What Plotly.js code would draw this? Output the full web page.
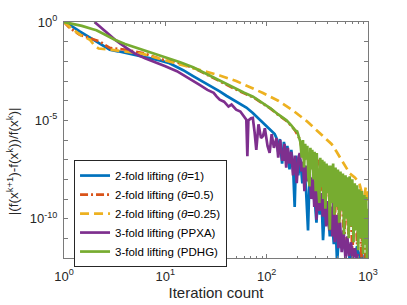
<!DOCTYPE html>
<html>
<head>
<meta charset="utf-8">
<script src="https://cdn.plot.ly/plotly-3.0.1.min.js"></script>
<style>html,body{margin:0;padding:0;background:#fff;}#chart{width:407px;height:305px;}</style>
</head>
<body>
<div id="chart"></div>
<script>
// Series names
const seriesNames = [
  '2-fold lifting (<i>θ</i>=1)',
  '2-fold lifting (<i>θ</i>=0.5)',
  '2-fold lifting (<i>θ</i>=0.25)',
  '3-fold lifting (PPXA)',
  '3-fold lifting (PDHG)'
];
const xTitle = 'Iteration count';
const yTitle = '|(f(x<sup>k+1</sup>)-f(x<sup>k</sup>))/f(x<sup>k</sup>)|';

// Values are stored as log10 of |(f(x^{k+1})-f(x^k))/f(x^k)|
const iterTheta1 = [1,1.2,1.43,1.7,1.93,2.2,2.43,2.83,3.41,4.12,5,7,8.8,11,15,18.8,25,34.4,40,50,63,73,85,100,107,120,
  125,130,135,142,148,155,160,168,175,182,189,195,205,215,225,235,245,256,265,278,290,300,310,322,335,348,360,375,390,405,420,440,460,480,495,520,545,570,600,630,660,700,740,780,820,860,900,950];
const logTheta1 = [0,-0.22,-0.48,-0.72,-0.9,-1.08,-1.24,-1.41,-1.49,-1.58,-1.68,-1.85,-1.95,-2.1,-2.45,-2.75,-3.1,-3.53,-3.75,-4.05,-4.35,-4.63,-4.95,-5.3,-5.48,-5.7,
  -5.9,-6.6,-5.95,-7.2,-6.1,-6.9,-6.3,-7.5,-6.5,-7.3,-9.4,-6.8,-7.8,-7.0,-8.2,-7.3,-8.6,-10.6,-7.8,-9.0,-8.2,-9.5,-10.2,-8.6,-9.8,-9.0,-11.1,-9.4,-10.3,-9.7,-10.9,-10.0,-11.3,-10.4,-12.2,-10.8,-11.5,-10.9,-11.8,-11.2,-12.1,-11.5,-11.9,-11.4,-12.1,-11.6,-12.2,-11.8];

const iterTheta05 = [1,1.14,1.43,1.79,2.25,2.83,4.12,6,9.5,14,18.8,25,34.4,45,60,73.4,90,110,130,157,175,190,212,
  220,235,250,265,280,300,320,340,360,380,400,420,445,470,495,520,550,580,610,640,670,700,740,780,820,860,900,950];
const logTheta05 = [0,-0.3,-0.65,-0.81,-0.99,-1.32,-1.41,-1.58,-1.92,-2.1,-2.33,-2.64,-3.02,-3.32,-3.63,-3.82,-4.12,-4.42,-4.72,-5.03,-5.28,-5.5,-5.95,
  -6.3,-7.0,-6.5,-7.6,-6.7,-8.4,-7.0,-8.6,-7.2,-9.2,-7.4,-9.6,-7.6,-10.0,-7.8,-10.4,-8.0,-11.5,-8.2,-10.8,-8.4,-11.9,-8.6,-11.3,-8.8,-12.1,-9.0,-12.2];

const iterTheta025 = [1,1.2,1.5,1.8,2.0,2.2,3.0,4,6,10,15,23.6,34.4,50,68.5,92,130,182,250,310,370,436,490,560,660,740,820,870,920,950,975,1000];
const logTheta025 = [0,-0.35,-0.7,-0.9,-1.2,-1.35,-1.42,-1.5,-1.62,-1.95,-2.2,-2.51,-2.72,-3.0,-3.3,-3.61,-4.0,-4.5,-5.05,-5.5,-5.85,-6.2,-6.6,-7.1,-7.7,-7.9,-8.18,-8.7,-8.87,-8.4,-9.2,-8.6];

const iterPPXA = [2,2.5,3,3.28,4.12,5,6.3,8,10,13,17,21.8,26,30,32,34.4,38,42,45,50,55,60,63,64.5,66,70,73,76,79,83,88,92,96,102,107,112,118,
  125,130,136,142,146,150,156,162,168,175,182,190,198,206,212,220,228,236,245,255,265,275,285,295,305,310,320,332,345,358,372,386,400,415,430,445,453,470,490,510,530,550,575,600,625,650,680,710,740,770,800];
const logPPXA = [0,-0.45,-0.82,-0.95,-1.32,-1.6,-1.85,-2.05,-2.25,-2.5,-2.85,-3.2,-3.45,-3.6,-3.78,-3.95,-4.05,-4.3,-4.2,-4.46,-4.55,-4.8,-4.97,-6.83,-5.0,-4.9,-4.88,-5.6,-6.5,-5.2,-5.9,-5.8,-5.4,-6.3,-6.66,-5.7,-6.4,
  -5.9,-6.9,-6.0,-7.0,-7.0,-6.2,-7.4,-6.4,-7.2,-6.6,-7.8,-6.8,-8.2,-6.9,-6.66,-7.6,-7.1,-8.6,-7.3,-8.1,-7.6,-9.0,-7.9,-9.4,-8.1,-10.05,-8.4,-9.6,-8.7,-9.9,-8.9,-10.4,-9.1,-10.6,-9.4,-10.9,-9.2,-11.2,-9.8,-11.5,-10.2,-11.7,-10.6,-12.1,-10.9,-11.9,-11.2,-12.1,-11.5,-12.0,-11.8];

const iterPDHG = [1,1.5,1.93,2.09,2.5,3.17,4,5,6,7,8.8,11,14,18.8,25,34.4,45,60,73.4,90,110,130,157,175,190,200,
  215,222,228,234,240,246,252,258,265,270,276,282,290,297,305,312,320,331,338,346,354,362,370,380,390,400,410,420,430,440,453,465,478,492,505,520,535,550,565,580,600,615,630,645,660,680,700,720,740,760,780,800,820,845,870,895,920,940,960,975,990,1000];
const logPDHG = [0,-0.2,-0.37,-0.42,-0.62,-0.9,-1.12,-1.28,-1.41,-1.55,-1.72,-1.85,-2.05,-2.3,-2.62,-3.0,-3.3,-3.6,-3.8,-4.1,-4.4,-4.7,-5.0,-5.25,-5.5,-5.56,
  -6.1,-6.9,-6.0,-7.4,-6.2,-7.0,-6.3,-7.9,-8.36,-6.4,-7.5,-6.5,-8.0,-6.6,-8.6,-6.66,-8.2,-9.2,-6.9,-8.4,-7.0,-9.0,-7.1,-9.5,-7.2,-8.7,-7.3,-10.56,-7.3,-9.2,-7.2,-9.8,-7.4,-9.4,-7.5,-10.2,-7.6,-9.6,-7.7,-10.8,-7.8,-10.0,-7.9,-11.0,-7.85,-10.4,-8.0,-11.2,-8.2,-10.6,-8.3,-11.6,-8.5,-11.0,-8.6,-11.8,-8.8,-11.3,-8.9,-12.2,-9.5,-11.0];

// Axis ticks
const xTickVals = [1, 10, 100, 1000];
const xTickText = ['10<sup>0</sup>', '10<sup>1</sup>', '10<sup>2</sup>', '10<sup>3</sup>'];
const yTickExps = [0,-1,-2,-3,-4,-5,-6,-7,-8,-9,-10,-11,-12];
const yTickText = ['10<sup>0</sup>','','','','','10<sup>-5</sup>','','','','','10<sup>-10</sup>','',''];

const colors = ['#0072BD', '#D95319', '#EDB120', '#7E2F8E', '#77AC30'];
const dashes = ['solid', '8px,3px,2px,3px', '9px,5px', 'solid', 'solid'];

const toVal = arr => arr.map(e => Math.pow(10, e));
const xs = [iterTheta1, iterTheta05, iterTheta025, iterPPXA, iterPDHG];
const ys = [logTheta1, logTheta05, logTheta025, logPPXA, logPDHG];

const traces = xs.map((x, i) => ({
  x: x, y: toVal(ys[i]), type: 'scatter', mode: 'lines', name: seriesNames[i],
  line: {color: colors[i], width: 2.7, dash: dashes[i]}
}));

const minorX = [];
for (const d of [1, 10, 100]) for (let m = 2; m <= 9; m++) minorX.push(m * d);

const axisCol = '#7a7a7a';
const fam = 'Liberation Sans, Arial, sans-serif';

const layout = {
  width: 407, height: 305,
  margin: {l: 64, r: 39, t: 22, b: 47},
  paper_bgcolor: '#fff', plot_bgcolor: '#fff',
  font: {family: fam, size: 12, color: '#262626'},
  showlegend: true,
  legend: {x: 0.033, y: 0.415, xanchor: 'left', yanchor: 'top', bgcolor: '#fff',
    bordercolor: '#262626', borderwidth: 1, font: {family: fam, size: 11.5, color: '#000'},
    tracegroupgap: 0},
  xaxis: {type: 'log', range: [0, 3], tickvals: xTickVals, ticktext: xTickText,
    ticks: 'inside', ticklen: 4, tickcolor: axisCol, showline: true, linecolor: axisCol, linewidth: 1,
    mirror: 'ticks', showgrid: false, zeroline: false, ticklabelstandoff: 6,
    minor: {tickvals: minorX, ticks: 'inside', ticklen: 2, tickcolor: axisCol, showgrid: false},
    tickfont: {family: fam, size: 13, color: '#262626'},
    title: {text: xTitle, font: {family: fam, size: 15, color: '#262626'}, standoff: 3}},
  yaxis: {type: 'log', range: [-12, 0], tickvals: toVal(yTickExps), ticktext: yTickText,
    ticks: 'inside', ticklen: 4, tickcolor: axisCol, showline: true, linecolor: axisCol, linewidth: 1,
    mirror: 'ticks', showgrid: false, zeroline: false, ticklabelstandoff: 3,
    tickfont: {family: fam, size: 13, color: '#262626'}},
  annotations: [{
    text: yTitle, xref: 'paper', yref: 'paper', x: -0.168, y: 0.41,
    xanchor: 'center', yanchor: 'middle', textangle: -90, showarrow: false,
    font: {family: fam, size: 13.5, color: '#262626'}
  }]
};

Plotly.newPlot('chart', traces, layout, {staticPlot: true, displayModeBar: false});
</script>
</body>
</html>
